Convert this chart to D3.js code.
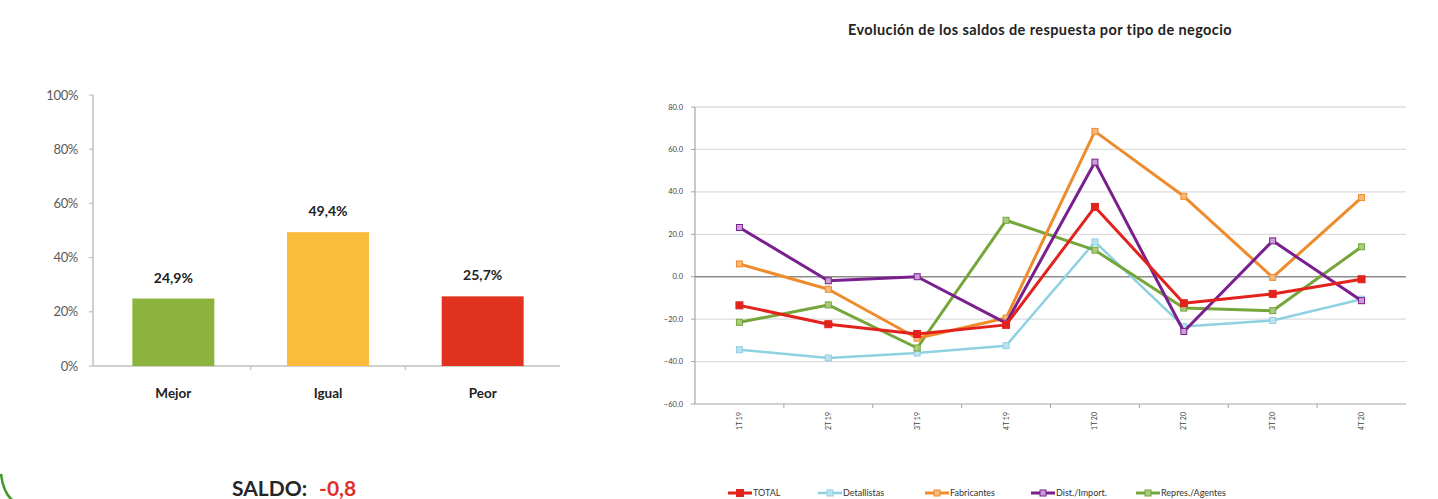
<!DOCTYPE html>
<html><head><meta charset="utf-8">
<script src="https://cdn.jsdelivr.net/npm/d3@7"></script>
<style>
body{margin:0;background:#fff;}
svg{display:block;font-family:Lato,"Open Sans",sans-serif;}
</style></head>
<body><svg id="c" width="1438" height="499"></svg>
<script>
// ---- data ----
const barCategories = ["Mejor", "Igual", "Peor"];
const barValues = [0.249, 0.494, 0.257];
const barLabels = ["24,9%", "49,4%", "25,7%"];
const barTicks = [0, 0.2, 0.4, 0.6, 0.8, 1];
const saldoLabel = "SALDO:";
const saldoValue = "-0,8";

const lineTitle = "Evolución de los saldos de respuesta por tipo de negocio";
const quarters = ["1T 19", "2T 19", "3T 19", "4T 19", "1T 20", "2T 20", "3T 20", "4T 20"];
const seriesNames = ["TOTAL", "Detallistas", "Fabricantes", "Dist./Import.", "Repres./Agentes"];
const totalValues = [-13.5, -22.4, -27.0, -22.7, 32.9, -12.5, -8.1, -1.2];
const detallistasValues = [-34.4, -38.3, -36.0, -32.5, 16.4, -23.5, -20.6, -10.6];
const fabricantesValues = [6.0, -5.9, -29.0, -19.5, 68.5, 37.9, -0.3, 37.3];
const distImportValues = [23.2, -1.9, 0.0, -21.9, 54.0, -25.8, 16.9, -11.3];
const represAgentesValues = [-21.5, -13.3, -33.6, 26.6, 12.5, -14.8, -16.0, 14.1];
const lineTicks = [-60, -40, -20, 0, 20, 40, 60, 80];

const svg = d3.select("#c");

// ---- left bar chart ----
const barColors = ["#8db33f", "#fbbc3c", "#e0321f"];
const xb = d3.scaleBand().domain(barCategories).range([96, 560]).paddingInner(0.47).paddingOuter(0.235);
const yb = d3.scaleLinear().domain([0, 1]).range([366, 95]);

const gl = svg.append("g");
gl.append("line").attr("x1", 93).attr("x2", 93).attr("y1", yb(1)).attr("y2", yb(0))
  .attr("stroke", "#bfbfbf").attr("stroke-width", 1.5);
gl.selectAll(".yt").data(barTicks).join("line")
  .attr("x1", 89).attr("x2", 93).attr("y1", d => yb(d)).attr("y2", d => yb(d))
  .attr("stroke", "#bfbfbf").attr("stroke-width", 1.2);
gl.selectAll(".yl").data(barTicks).join("text")
  .attr("x", 78).attr("y", d => yb(d)).attr("dy", "0.35em").attr("text-anchor", "end")
  .attr("font-size", 13).attr("fill", "#595959").attr("letter-spacing", "-0.3")
  .text(d => d3.format(".0%")(d));
gl.append("line").attr("x1", 93).attr("x2", 560).attr("y1", yb(0)).attr("y2", yb(0))
  .attr("stroke", "#bfbfbf").attr("stroke-width", 1.5);
const bstep = xb.step();
gl.selectAll(".xt").data(barCategories.slice(1)).join("line")
  .attr("x1", d => xb(d) - bstep * 0.235).attr("x2", d => xb(d) - bstep * 0.235)
  .attr("y1", yb(0)).attr("y2", yb(0) + 4).attr("stroke", "#bfbfbf").attr("stroke-width", 1.2);
gl.selectAll(".bar").data(barValues).join("rect")
  .attr("x", (d, i) => xb(barCategories[i])).attr("width", xb.bandwidth())
  .attr("y", d => yb(d)).attr("height", d => yb(0) - yb(d))
  .attr("fill", (d, i) => barColors[i]);
gl.selectAll(".bl").data(barValues).join("text")
  .attr("x", (d, i) => xb(barCategories[i]) + xb.bandwidth() / 2).attr("y", d => yb(d) - 16)
  .attr("text-anchor", "middle").attr("font-size", 14).attr("font-weight", "bold").attr("fill", "#222")
  .text((d, i) => barLabels[i]);
gl.selectAll(".cl").data(barCategories).join("text")
  .attr("x", d => xb(d) + xb.bandwidth() / 2).attr("y", 398)
  .attr("text-anchor", "middle").attr("font-size", 13.5).attr("font-weight", "bold").attr("fill", "#222")
  .text(d => d);
const st = gl.append("text").attr("x", 232).attr("y", 496).attr("font-size", 21).attr("font-weight", "bold");
st.append("tspan").attr("fill", "#262626").text(saldoLabel);
st.append("tspan").attr("fill", "#e0312a").attr("dx", 12).text(saldoValue);

svg.append("path").attr("d", "M1 474 Q 3 492 12 500").attr("fill", "none")
  .attr("stroke", "#3f9a2a").attr("stroke-width", 2.5);

// ---- right line chart ----
const gr = svg.append("g");
const xl = d3.scaleBand().domain(quarters).range([695, 1406]);
const yl = d3.scaleLinear().domain([-60, 80]).range([404, 107]);

gr.append("text").attr("x", 1040).attr("y", 35).attr("text-anchor", "middle")
  .attr("font-size", 14.5).attr("font-weight", "bold").attr("letter-spacing", "0.4")
  .attr("fill", "#222").text(lineTitle);

gr.selectAll(".g").data(lineTicks.filter(d => d !== -60 && d !== 0)).join("line")
  .attr("x1", 695).attr("x2", 1406).attr("y1", d => yl(d)).attr("y2", d => yl(d))
  .attr("stroke", "#dcdcdc").attr("stroke-width", 1.3);
gr.append("line").attr("x1", 695).attr("x2", 695).attr("y1", yl(80)).attr("y2", yl(-60))
  .attr("stroke", "#a6a6a6").attr("stroke-width", 1.2);
gr.selectAll(".yt").data(lineTicks).join("line")
  .attr("x1", 691).attr("x2", 695).attr("y1", d => yl(d)).attr("y2", d => yl(d))
  .attr("stroke", "#a6a6a6");
gr.selectAll(".yl").data(lineTicks).join("text")
  .attr("x", 683).attr("y", d => yl(d)).attr("dy", "0.35em").attr("text-anchor", "end")
  .attr("font-size", 7.5).attr("fill", "#444").text(d => d3.format(".1f")(d));
gr.append("line").attr("x1", 695).attr("x2", 1406).attr("y1", yl(-60)).attr("y2", yl(-60))
  .attr("stroke", "#a6a6a6").attr("stroke-width", 1.2);
gr.selectAll(".xt").data(quarters.slice(1)).join("line")
  .attr("x1", d => xl(d)).attr("x2", d => xl(d)).attr("y1", yl(-60)).attr("y2", yl(-60) + 4)
  .attr("stroke", "#a6a6a6");
gr.selectAll(".xl").data(quarters).join("text")
  .attr("transform", d => `translate(${xl(d) + xl.bandwidth() / 2},412) rotate(-90)`)
  .attr("text-anchor", "end").attr("dy", "0.35em").attr("font-size", 7).attr("fill", "#444")
  .text(d => d);
gr.append("line").attr("x1", 695).attr("x2", 1406).attr("y1", yl(0)).attr("y2", yl(0))
  .attr("stroke", "#8c8c8c").attr("stroke-width", 1.6);

const series = [
  {name: seriesNames[0], values: totalValues, color: "#e2221d", fill: "#e2221d", w: 3, m: 7},
  {name: seriesNames[1], values: detallistasValues, color: "#8fd0e2", fill: "#b9e3ee", w: 2.5, m: 6},
  {name: seriesNames[2], values: fabricantesValues, color: "#ee8b2c", fill: "#f6b77a", w: 3, m: 6},
  {name: seriesNames[3], values: distImportValues, color: "#7a1f8e", fill: "#c9a0d6", w: 3, m: 6},
  {name: seriesNames[4], values: represAgentesValues, color: "#74a63a", fill: "#a9cb80", w: 3, m: 6}
];
const drawOrder = [1, 4, 2, 3, 0];
const line = d3.line().x((d, i) => xl(quarters[i]) + xl.bandwidth() / 2).y(d => yl(d));
drawOrder.forEach(k => {
  const s = series[k];
  gr.append("path").datum(s.values).attr("d", line).attr("fill", "none")
    .attr("stroke", s.color).attr("stroke-width", s.w).attr("stroke-linejoin", "round");
  gr.selectAll(null).data(s.values).join("rect")
    .attr("x", (d, i) => xl(quarters[i]) + xl.bandwidth() / 2 - s.m / 2)
    .attr("y", d => yl(d) - s.m / 2).attr("width", s.m).attr("height", s.m)
    .attr("fill", s.fill).attr("stroke", s.color).attr("stroke-width", 1);
});

// legend
const legX = [728, 818, 925, 1031, 1136];
const lg = gr.selectAll(".lg").data(series).join("g")
  .attr("transform", (d, i) => `translate(${legX[i]},493)`);
lg.append("line").attr("x1", 0).attr("x2", 24).attr("y1", 0).attr("y2", 0)
  .attr("stroke", d => d.color).attr("stroke-width", d => d.w);
lg.append("rect").attr("x", d => 12 - d.m / 2).attr("y", d => -d.m / 2)
  .attr("width", d => d.m).attr("height", d => d.m)
  .attr("fill", d => d.fill).attr("stroke", d => d.color);
lg.append("text").attr("x", 25).attr("y", 0).attr("dy", "0.35em")
  .attr("font-size", 9).attr("fill", "#333").text(d => d.name);
</script></body></html>
